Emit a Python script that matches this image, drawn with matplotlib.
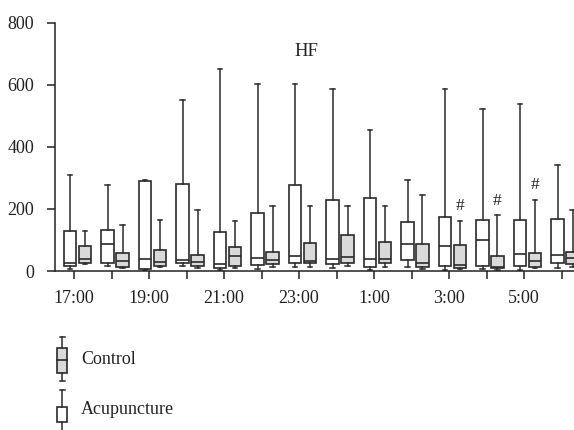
import matplotlib
matplotlib.use("Agg")
import matplotlib.pyplot as plt
from matplotlib.patches import Rectangle

# ---------------- data ----------------
hours = ["17:00", "18:00", "19:00", "20:00", "21:00", "22:00", "23:00",
         "0:00", "1:00", "2:00", "3:00", "4:00", "5:00", "6:00"]
tick_labels = [h if i % 2 == 0 else "" for i, h in enumerate(hours)]

# Acupuncture (white boxes)
acu_whishi = [310, 277, 293, 552, 650, 601, 601, 585, 455, 292, 585, 521, 537, 342]
acu_q3     = [129, 131, 289, 279, 126, 186, 277, 229, 235, 159, 175, 164, 164, 166]
acu_med    = [27,  87,  38,  35,  24,  41,  48,  38,  38,  86,  80,  100, 55,  51]
acu_q1     = [15,  26,  5,   25,  9,   19,  25,  22,  12,  35,  16,  17,  16,  25]
acu_whislo = [6,   17,  2,   17,  3,   6,   13,  11,  3,   14,  3,   5,   3,   11]

# Control (grey boxes)
ctl_whishi = [130, 147, 163, 195, 162, 210, 211, 211, 211, 245, 162, 179, 228, 195]
ctl_q3     = [79,  57,  68,  51,  78,  60,  91,  115, 92,  87,  84,  49,  59,  62]
ctl_med    = [40,  32,  30,  28,  48,  35,  33,  46,  40,  27,  20,  14,  33,  41]
ctl_q1     = [26,  14,  17,  16,  16,  22,  25,  27,  25,  14,  9,   9,   14,  23]
ctl_whislo = [22,  11,  13,  11,  9,   12,  12,  17,  12,  6,   6,   3,   9,   12]

ctl_sig = ["", "", "", "", "", "", "", "", "", "", "#", "#", "#", ""]

yticks = [0, 200, 400, 600, 800]

# ---------------- style ----------------
plt.rcParams['font.family'] = ['Liberation Serif', 'DejaVu Serif']
EDGE = '#2a2a2a'
GREY = '#d9d9d9'
W, H = 574, 430

fig = plt.figure(figsize=(W / 100, H / 100), dpi=100)
ax = fig.add_axes([55 / W, (H - 271) / H, (W - 55) / W, (271 - 22.7) / H])


def stats(whislo, q1, med, q3, whishi):
    return [dict(whislo=a, q1=b, med=c, q3=d, whishi=e, fliers=[])
            for a, b, c, d, e in zip(whislo, q1, med, q3, whishi)]


idx = list(range(len(hours)))
box_w = 0.333
pos_acu = [i - 0.107 for i in idx]
pos_ctl = [i + 0.293 for i in idx]

common = dict(widths=box_w, patch_artist=True, showfliers=False,
              medianprops=dict(color=EDGE, linewidth=1.2),
              whiskerprops=dict(color=EDGE, linewidth=1.1),
              capprops=dict(color=EDGE, linewidth=1.1),
              capwidths=0.13, manage_ticks=False)

ax.bxp(stats(acu_whislo, acu_q1, acu_med, acu_q3, acu_whishi), positions=pos_acu,
       boxprops=dict(facecolor='white', edgecolor=EDGE, linewidth=1.2), **common)
ax.bxp(stats(ctl_whislo, ctl_q1, ctl_med, ctl_q3, ctl_whishi), positions=pos_ctl,
       boxprops=dict(facecolor=GREY, edgecolor=EDGE, linewidth=1.2), **common)

for p, hi, s in zip(pos_ctl, ctl_whishi, ctl_sig):
    if s:
        ax.text(p, hi + 48, s, ha='center', va='center', fontsize=12.5, color='#222')

ax.set_xlim(-0.507, 13.333)
ax.set_ylim(0, 800)
ax.set_xticks(idx)
ax.set_xticklabels(tick_labels)
ax.set_yticks(yticks)
for s in ['top', 'right']:
    ax.spines[s].set_visible(False)
for s in ['left', 'bottom']:
    ax.spines[s].set_color('#222')
    ax.spines[s].set_linewidth(1.1)
ax.tick_params(axis='both', direction='out', length=6, width=1.1, color='#222',
               labelsize=13, labelcolor='#222')
ax.tick_params(axis='x', pad=8)
ax.tick_params(axis='y', pad=9)

fig.text(306 / W, 1 - 52 / H, "HF", ha='center', va='center', fontsize=13.5, color='#222')

# ---------------- legend (manual glyphs) ----------------
lax = fig.add_axes([0, 0, 1, 1])
lax.set_xlim(0, W)
lax.set_ylim(H, 0)
lax.axis('off')


def glyph(cx, cap_top, box_top, box_bot, cap_bot, med, face):
    lax.plot([cx, cx], [cap_top, box_top], color=EDGE, lw=1.1)
    lax.plot([cx, cx], [box_bot, cap_bot], color=EDGE, lw=1.1)
    lax.plot([cx - 2.5, cx + 2.5], [cap_top, cap_top], color=EDGE, lw=1.1)
    lax.plot([cx - 2.5, cx + 2.5], [cap_bot, cap_bot], color=EDGE, lw=1.1)
    lax.add_patch(Rectangle((cx - 5.2, box_top), 10.4, box_bot - box_top,
                            facecolor=face, edgecolor=EDGE, lw=1.2))
    if med is not None:
        lax.plot([cx - 5.2, cx + 5.2], [med, med], color=EDGE, lw=1.2)


glyph(62, 337, 348, 373, 381, 360, GREY)
lax.text(81, 359, "Control", ha='left', va='center', fontsize=13, color='#222')
glyph(62, 390, 407, 422, 436, None, 'white')
lax.text(81, 410, "Acupuncture", ha='left', va='center', fontsize=13, color='#222')

fig.savefig("out.png", dpi=100)
